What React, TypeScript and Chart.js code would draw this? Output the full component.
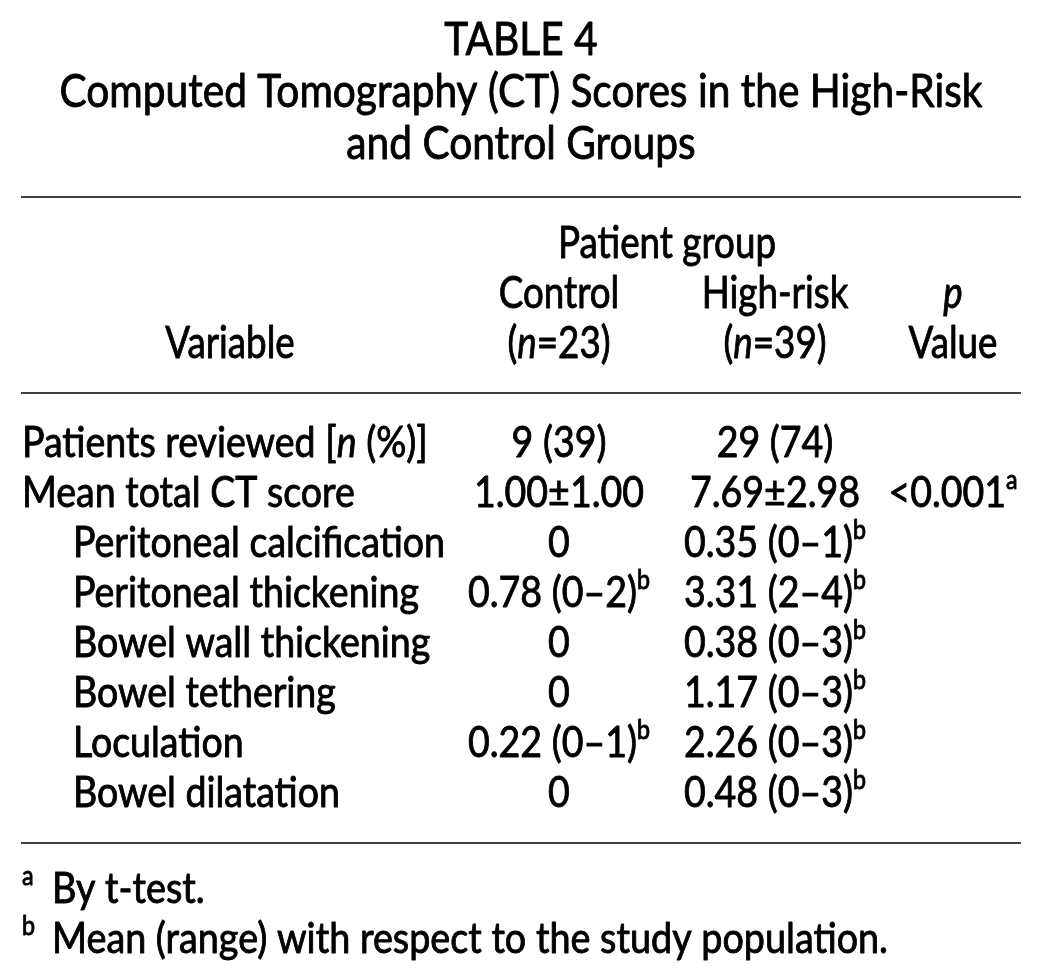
import React, { useEffect, useRef } from "react";
import { Chart, registerables } from "chart.js";

Chart.register(...registerables);

// ---------- data ----------
const titleLines = [
  "TABLE 4",
  "Computed Tomography (CT) Scores in the High-Risk",
  "and Control Groups",
];
const groupHeader = "Patient group";
const columnHeaderTop = ["Control", "High-risk", "*p*"];
const columnHeaderBottom = ["(*n*=23)", "(*n*=39)", "Value"];
const variableHeader = "Variable";

const variables = [
  "Patients reviewed [*n* (%)]",
  "Mean total CT score",
  "Peritoneal calcification",
  "Peritoneal thickening",
  "Bowel wall thickening",
  "Bowel tethering",
  "Loculation",
  "Bowel dilatation",
];
const variableIndented = [false, false, true, true, true, true, true, true];

const controlValues = ["9 (39)", "1.00±1.00", "0", "0.78 (0–2)", "0", "0", "0.22 (0–1)", "0"];
const controlNotes = ["", "", "", "b", "", "", "b", ""];
const highRiskValues = [
  "29 (74)",
  "7.69±2.98",
  "0.35 (0–1)",
  "3.31 (2–4)",
  "0.38 (0–3)",
  "1.17 (0–3)",
  "2.26 (0–3)",
  "0.48 (0–3)",
];
const highRiskNotes = ["", "", "b", "b", "b", "b", "b", "b"];
const pValues = ["", "<0.001", "", "", "", "", "", ""];
const pNotes = ["", "a", "", "", "", "", "", ""];

const footnoteMarks = ["a", "b"];
const footnoteTexts = ["By t-test.", "Mean (range) with respect to the study population."];

// ---------- layout (not data) ----------
const W = 1042;
const H = 978;
const FONT = "Lato, 'Noto Sans', sans-serif";
const L = {
  titleSize: 46,
  titleBaselines: [55, 107, 159],
  titleFitWidth: 923,
  headSize: 44,
  headFitWidth: 218,
  groupBaseline: 258,
  headTopBaseline: 308,
  headBottomBaseline: 358,
  bodySize: 42,
  bodyFitWidth: 372,
  firstRowBaseline: 457,
  rowStep: 50,
  footSize: 42,
  footFitWidth: 836,
  footBaselines: [903, 953],
  leftX: 22,
  indentX: 73,
  footTextX: 52,
  variableCenter: 230,
  colCenters: [559, 775, 953],
  groupCenter: 667,
  rules: [197, 393, 843],
  ruleLeft: 21,
  ruleRight: 1021,
  embolden: 0.9,
  supScale: 0.62,
  supRaise: 0.42,
};

type Seg = { text: string; italic?: boolean; sup?: boolean };

function parse(s: string, note?: string): Seg[] {
  const out: Seg[] = [];
  s.split("*").forEach((t, i) => {
    if (t) out.push({ text: t, italic: i % 2 === 1 });
  });
  if (note) out.push({ text: note, sup: true });
  return out;
}

function fontFor(seg: Seg, size: number) {
  const sz = seg.sup ? Math.round(size * L.supScale) : size;
  return `${seg.italic ? "italic " : ""}${sz}px ${FONT}`;
}

function measure(ctx: CanvasRenderingContext2D, segs: Seg[], size: number) {
  let w = 0;
  for (const s of segs) {
    ctx.font = fontFor(s, size);
    w += ctx.measureText(s.text).width;
  }
  return w;
}

function drawRich(
  ctx: CanvasRenderingContext2D,
  segs: Seg[],
  x: number,
  y: number,
  align: "left" | "center",
  size: number,
  k: number
) {
  const total = measure(ctx, segs, size) * k;
  const startX = align === "center" ? x - total / 2 : x;
  ctx.save();
  ctx.translate(startX, y);
  ctx.scale(k, 1);
  ctx.textAlign = "left";
  ctx.textBaseline = "alphabetic";
  ctx.lineJoin = "round";
  ctx.lineWidth = L.embolden;
  let cx = 0;
  for (const s of segs) {
    ctx.font = fontFor(s, size);
    const dy = s.sup ? -size * L.supRaise : 0;
    ctx.fillText(s.text, cx, dy);
    ctx.strokeText(s.text, cx, dy);
    cx += ctx.measureText(s.text).width;
  }
  ctx.restore();
}

const tablePlugin = {
  id: "tablePlugin",
  beforeDraw(chart: any) {
    const ctx = chart.ctx as CanvasRenderingContext2D;
    ctx.save();
    ctx.fillStyle = "#ffffff";
    ctx.fillRect(0, 0, chart.width, chart.height);
    ctx.restore();
  },
  afterDraw(chart: any) {
    const ctx = chart.ctx as CanvasRenderingContext2D;
    const xs = chart.scales.x;
    const ys = chart.scales.y;
    const px = (v: number) => xs.getPixelForValue(v);
    const py = (v: number) => ys.getPixelForValue(v);

    ctx.save();
    ctx.fillStyle = "#000000";
    ctx.strokeStyle = "#000000";

    const kTitle = L.titleFitWidth / measure(ctx, parse(titleLines[1]), L.titleSize);
    const kHead = L.headFitWidth / measure(ctx, parse(groupHeader), L.headSize);
    const kBody = L.bodyFitWidth / measure(ctx, parse(variables[2]), L.bodySize);
    const kFoot = L.footFitWidth / measure(ctx, parse(footnoteTexts[1]), L.footSize);

    // title
    titleLines.forEach((t, i) => {
      drawRich(ctx, parse(t), px(W / 2), py(L.titleBaselines[i]), "center", L.titleSize, kTitle);
    });

    // rules
    ctx.save();
    ctx.lineWidth = 1.5;
    L.rules.forEach((r) => {
      ctx.beginPath();
      ctx.moveTo(px(L.ruleLeft), py(r));
      ctx.lineTo(px(L.ruleRight), py(r));
      ctx.stroke();
    });
    ctx.restore();

    // header
    drawRich(ctx, parse(groupHeader), px(L.groupCenter), py(L.groupBaseline), "center", L.headSize, kHead);
    columnHeaderTop.forEach((t, i) => {
      drawRich(ctx, parse(t), px(L.colCenters[i]), py(L.headTopBaseline), "center", L.headSize, kHead);
    });
    columnHeaderBottom.forEach((t, i) => {
      drawRich(ctx, parse(t), px(L.colCenters[i]), py(L.headBottomBaseline), "center", L.headSize, kHead);
    });
    drawRich(ctx, parse(variableHeader), px(L.variableCenter), py(L.headBottomBaseline), "center", L.headSize, kHead);

    // body rows
    variables.forEach((v, r) => {
      const y = py(L.firstRowBaseline + r * L.rowStep);
      drawRich(ctx, parse(v), px(variableIndented[r] ? L.indentX : L.leftX), y, "left", L.bodySize, kBody);
      const cols = [
        [controlValues[r], controlNotes[r]],
        [highRiskValues[r], highRiskNotes[r]],
        [pValues[r], pNotes[r]],
      ];
      cols.forEach(([val, note], c) => {
        if (!val) return;
        drawRich(ctx, parse(val, note), px(L.colCenters[c]), y, "center", L.bodySize, kBody);
      });
    });

    // footnotes
    footnoteTexts.forEach((t, i) => {
      const y = py(L.footBaselines[i]);
      drawRich(ctx, [{ text: footnoteMarks[i], sup: true }], px(L.leftX), y, "left", L.footSize, kFoot);
      drawRich(ctx, parse(t), px(L.footTextX), y, "left", L.footSize, kFoot);
    });

    ctx.restore();
  },
};

export default function App() {
  const ref = useRef<HTMLCanvasElement | null>(null);
  useEffect(() => {
    document.body.style.margin = "0";
    const canvas = ref.current;
    if (!canvas) return;
    const chart = new Chart(canvas, {
      type: "scatter",
      data: { datasets: [{ data: [], pointRadius: 0 }] },
      options: {
        animation: false,
        responsive: false,
        maintainAspectRatio: false,
        devicePixelRatio: 1,
        layout: { padding: 0 },
        plugins: { legend: { display: false }, tooltip: { enabled: false }, title: { display: false } },
        scales: {
          x: { type: "linear", min: 0, max: W, display: false },
          y: { type: "linear", min: 0, max: H, reverse: true, display: false },
        },
      },
      plugins: [tablePlugin],
    });
    return () => chart.destroy();
  }, []);
  return (
    <div style={{ width: W, height: H }}>
      <canvas ref={ref} width={W} height={H} style={{ display: "block", width: W, height: H }} />
    </div>
  );
}
